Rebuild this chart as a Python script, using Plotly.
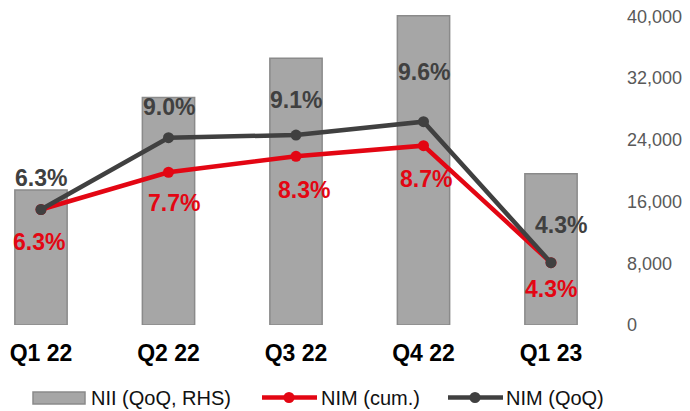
import plotly.graph_objects as go

categories = ["Q1 22", "Q2 22", "Q3 22", "Q4 22", "Q1 23"]
nii_qoq = [17500, 29500, 34600, 40100, 19600]
nim_cum = [6.3, 7.7, 8.3, 8.7, 4.3]
nim_qoq = [6.3, 9.0, 9.1, 9.6, 4.3]
rhs_ticks = [0, 8000, 16000, 24000, 32000, 40000]
series_names = ["NII (QoQ, RHS)", "NIM (cum.)", "NIM (QoQ)"]

RED = "#E30613"
DARK = "#404040"
BAR = "#A6A6A6"
BAR_EDGE = "#8A8A8A"
FONT = "Liberation Sans, Arial, sans-serif"

# the page body has an 8px margin, so the figure is 8px smaller than the window
OFF = 8
W, H = 690 - OFF, 411 - OFF
ML, MR, MT, MB = 0, 64, 2, 86
PW, PH = W - ML - MR, H - MT - MB


def px(x):
    """page pixel x -> paper x"""
    return (x - OFF - ML) / PW


def py(y):
    """page pixel y -> paper y"""
    return (H - MB - (y - OFF)) / PH


# label offsets (pixels) for percentage annotations
qoq_shift = [(0, 32), (0, 31), (0, 35), (0, 50), (10, 38)]
cum_shift = [(-2, -32), (5, -31), (8, -34), (2, -33), (0, -26)]

fig = go.Figure()
fig.add_trace(go.Bar(
    x=categories, y=nii_qoq, name=series_names[0], yaxis="y",
    marker=dict(color=BAR, line=dict(color=BAR_EDGE, width=1.5)),
    width=0.41, showlegend=False,
))
fig.add_trace(go.Scatter(
    x=categories, y=nim_cum, name=series_names[1], yaxis="y2",
    mode="lines+markers", line=dict(color=RED, width=4.5),
    marker=dict(color=RED, size=11), showlegend=False,
))
fig.add_trace(go.Scatter(
    x=categories, y=nim_qoq, name=series_names[2], yaxis="y2",
    mode="lines+markers", line=dict(color=DARK, width=4.5),
    marker=dict(color=DARK, size=11), showlegend=False,
))

annotations = []
for c, v, (dx, dy) in zip(categories, nim_qoq, qoq_shift):
    annotations.append(dict(x=c, y=v, xref="x", yref="y2", text=f"{v:.1f}%",
                            showarrow=False, xshift=dx, yshift=dy,
                            font=dict(family=FONT, size=23, color=DARK, weight="bold")))
for c, v, (dx, dy) in zip(categories, nim_cum, cum_shift):
    annotations.append(dict(x=c, y=v, xref="x", yref="y2", text=f"{v:.1f}%",
                            showarrow=False, xshift=dx, yshift=dy,
                            font=dict(family=FONT, size=23, color=RED, weight="bold")))

# manual legend (long swatches as in the reference)
LEG_Y = 397.5
shapes = [
    dict(type="rect", xref="paper", yref="paper", x0=px(33), x1=px(85),
         y0=py(404), y1=py(392), fillcolor=BAR, line=dict(color=BAR_EDGE, width=1.5)),
    dict(type="line", xref="paper", yref="paper", x0=px(262), x1=px(317),
         y0=py(LEG_Y), y1=py(LEG_Y), line=dict(color=RED, width=4.5)),
    dict(type="circle", xref="paper", yref="paper", x0=px(283.5), x1=px(294.5),
         y0=py(LEG_Y + 5.5), y1=py(LEG_Y - 5.5), fillcolor=RED, line=dict(color=RED, width=0)),
    dict(type="line", xref="paper", yref="paper", x0=px(448), x1=px(503),
         y0=py(LEG_Y), y1=py(LEG_Y), line=dict(color=DARK, width=4.5)),
    dict(type="circle", xref="paper", yref="paper", x0=px(469.5), x1=px(480.5),
         y0=py(LEG_Y + 5.5), y1=py(LEG_Y - 5.5), fillcolor=DARK, line=dict(color=DARK, width=0)),
]
for name, x0 in zip(series_names, [89, 319, 504]):
    annotations.append(dict(x=px(x0), y=py(LEG_Y), xref="paper", yref="paper",
                            text=name, showarrow=False, xanchor="left", yanchor="middle",
                            font=dict(family=FONT, size=20, color="#111111")))

# category axis range chosen so that the first category sits at page x=41, step 127.5px
STEP = 127.5
r0 = -(41 - OFF - ML) / STEP
r1 = r0 + PW / STEP

fig.update_layout(
    width=W, height=H,
    margin=dict(l=ML, r=MR, t=MT, b=MB, autoexpand=False),
    paper_bgcolor="white", plot_bgcolor="white",
    font=dict(family=FONT),
    showlegend=False,
    xaxis=dict(range=[r0, r1], showline=False, showgrid=False, zeroline=False,
               automargin=False,
               tickfont=dict(family=FONT, size=23, color="#000000", weight="bold"),
               ticklabelstandoff=12),
    yaxis=dict(side="right", range=[0, 40840], tickvals=rhs_ticks, tickformat=",d",
               showgrid=False, zeroline=False, showline=False, automargin=False,
               ticklabeloverflow="allow",
               tickfont=dict(family=FONT, size=18, color="#595959"),
               ticklabelstandoff=0),
    yaxis2=dict(overlaying="y", range=[1.958, 13.8], visible=False),
    annotations=annotations,
    shapes=shapes,
)

fig.write_html("out.html")
